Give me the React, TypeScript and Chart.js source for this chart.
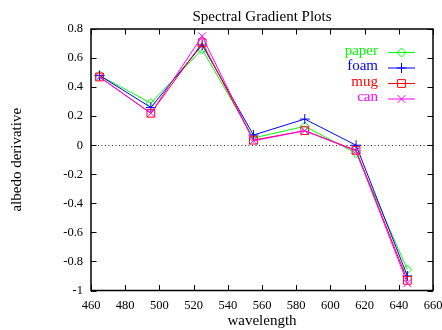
import { useEffect, useRef } from 'react';
import { Chart, registerables } from 'chart.js';
import { drawPoint } from 'chart.js/helpers';

Chart.register(...registerables);

const wavelengths = [465, 495, 525, 555, 585, 615, 645];
const paper = [0.48, 0.29, 0.66, 0.05, 0.13, -0.055, -0.855];
const foam = [0.48, 0.26, 0.69, 0.07, 0.18, 0.0, -0.9];
const mug = [0.47, 0.22, 0.705, 0.035, 0.1, -0.035, -0.93];
const can = [0.47, 0.22, 0.75, 0.03, 0.1, -0.04, -0.95];

const seriesNames = ['paper', 'foam', 'mug', 'can'];
const seriesValues = [paper, foam, mug, can];
const seriesColors = ['#00ff00', '#0000ff', '#ff0000', '#ff00ff'];
const seriesMarkers = ['rectRot', 'cross', 'rect', 'crossRot'];
const markerRadius = [4.5, 5, 5.5, 5.5];

const chartTitle = 'Spectral Gradient Plots';
const xTitle = 'wavelength';
const yTitle = 'albedo derivative';
const xMin = 460;
const xMax = 660;
const xStep = 20;
const yMin = -1;
const yMax = 0.8;
const yStep = 0.2;

const FONT = "'Liberation Serif', 'Times New Roman', serif";

const gnuplotPlugin = {
  id: 'gnuplotDecor',
  beforeDatasetsDraw(chart: any) {
    const { ctx, chartArea } = chart;
    const y0 = chart.scales.y.getPixelForValue(0);
    ctx.save();
    ctx.strokeStyle = '#333';
    ctx.lineWidth = 1;
    ctx.setLineDash([1, 2.5]);
    ctx.beginPath();
    ctx.moveTo(chartArea.left, Math.round(y0) + 0.5);
    ctx.lineTo(chartArea.right, Math.round(y0) + 0.5);
    ctx.stroke();
    ctx.restore();
  },
  afterDraw(chart: any) {
    const { ctx, chartArea } = chart;
    const { left, right, top, bottom } = chartArea;
    const xs = chart.scales.x;
    const ys = chart.scales.y;
    ctx.save();
    // frame
    ctx.strokeStyle = '#000';
    ctx.lineWidth = 1.5;
    ctx.strokeRect(left, top, right - left, bottom - top);
    // inward ticks
    const tl = 5.5;
    ctx.lineWidth = 1;
    ctx.beginPath();
    xs.ticks.forEach((t: any) => {
      const px = Math.round(xs.getPixelForValue(t.value)) + 0.5;
      ctx.moveTo(px, bottom);
      ctx.lineTo(px, bottom - tl);
      ctx.moveTo(px, top);
      ctx.lineTo(px, top + tl);
    });
    ys.ticks.forEach((t: any) => {
      const py = Math.round(ys.getPixelForValue(t.value)) + 0.5;
      ctx.moveTo(left, py);
      ctx.lineTo(left + tl, py);
      ctx.moveTo(right, py);
      ctx.lineTo(right - tl, py);
    });
    ctx.stroke();

    // title
    ctx.fillStyle = '#000';
    ctx.font = `15px ${FONT}`;
    ctx.textAlign = 'center';
    ctx.textBaseline = 'alphabetic';
    ctx.fillText(chartTitle, (left + right) / 2, 20.5);

    // legend (gnuplot key)
    seriesNames.forEach((name, i) => {
      const y = 52.5 + i * 15.5;
      ctx.font = `15px ${FONT}`;
      ctx.textAlign = 'right';
      ctx.textBaseline = 'middle';
      ctx.fillStyle = seriesColors[i];
      ctx.fillText(name, 378, y - 1.5);
      ctx.strokeStyle = seriesColors[i];
      ctx.lineWidth = 1;
      ctx.beginPath();
      ctx.moveTo(388, y);
      ctx.lineTo(415, y);
      ctx.stroke();
      ctx.fillStyle = 'rgba(0,0,0,0)';
      drawPoint(ctx, { pointStyle: seriesMarkers[i], radius: markerRadius[i], borderWidth: 1, rotation: 0 } as any, 401.5, y);
    });
    ctx.restore();
  },
};

export default function App() {
  const ref = useRef<HTMLCanvasElement>(null);
  useEffect(() => {
    if (!ref.current) return;
    const datasets = seriesNames.map((name, i) => ({
      label: name,
      data: wavelengths.map((w, j) => ({ x: w, y: seriesValues[i][j] })),
      borderColor: seriesColors[i],
      backgroundColor: 'transparent',
      borderWidth: 1,
      pointStyle: seriesMarkers[i],
      pointRadius: markerRadius[i],
      pointBorderColor: seriesColors[i],
      pointBackgroundColor: 'transparent',
      pointBorderWidth: 1,
      tension: 0,
      fill: false,
      order: seriesNames.length - 1 - i,
    }));
    const chart = new Chart(ref.current, {
      type: 'line',
      data: { datasets } as any,
      options: {
        animation: false,
        responsive: false,
        layout: { padding: { top: 29, right: 9, left: 0, bottom: 0 } },
        plugins: { legend: { display: false }, tooltip: { enabled: false }, title: { display: false } },
        scales: {
          x: {
            type: 'linear',
            min: xMin,
            max: xMax,
            grid: { display: false, drawTicks: false },
            border: { display: false },
            ticks: {
              stepSize: xStep,
              autoSkip: false,
              maxRotation: 0,
              padding: 8,
              color: '#000',
              font: { family: FONT, size: 12.5 },
              callback: (v: any) => String(v),
            },
            title: { display: true, text: xTitle, color: '#000', font: { family: FONT, size: 15 }, padding: { top: 0, bottom: 0 } },
            afterFit: (s: any) => {
              s.height = 39.5;
              s.paddingLeft = 0;
              s.paddingRight = 0;
            },
          },
          y: {
            type: 'linear',
            min: yMin,
            max: yMax,
            grid: { display: false, drawTicks: false },
            border: { display: false },
            ticks: {
              stepSize: yStep,
              padding: 8,
              color: '#000',
              font: { family: FONT, size: 12.5 },
              callback: (v: any) => String(Math.round(v * 10) / 10),
            },
            title: { display: true, text: yTitle, color: '#000', font: { family: FONT, size: 15 }, padding: { top: 8, bottom: 0 } },
            afterFit: (s: any) => {
              s.width = 91;
              s.paddingTop = 0;
              s.paddingBottom = 0;
            },
          },
        },
      } as any,
      plugins: [gnuplotPlugin],
    });
    return () => chart.destroy();
  }, []);
  return (
    <div style={{ position: 'fixed', left: 0, top: 0, width: 442, height: 330, background: '#fff' }}>
      <canvas ref={ref} width={442} height={330} />
    </div>
  );
}
